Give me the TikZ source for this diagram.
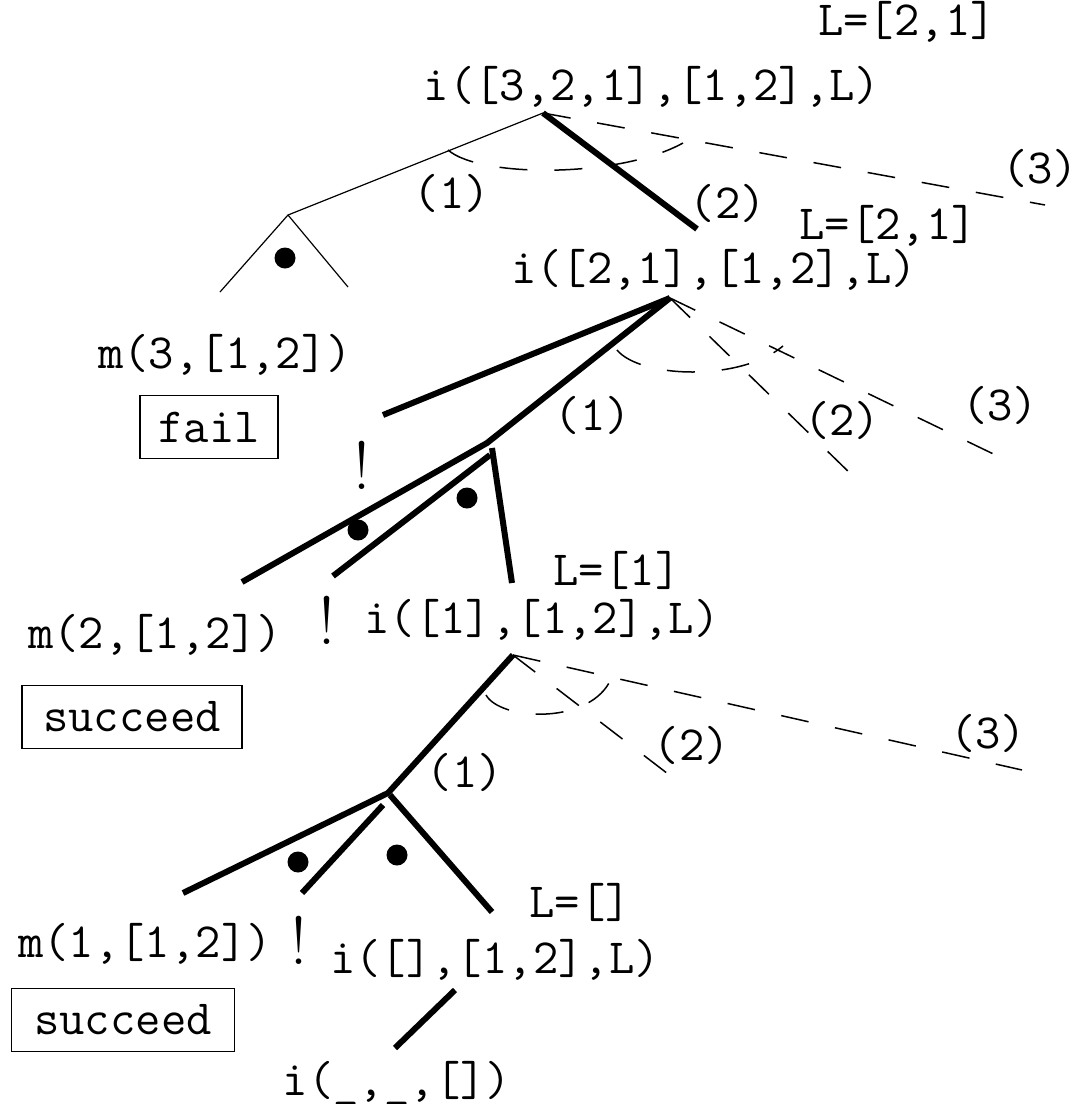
\documentclass[tikz,border=0pt]{standalone}
\usepackage{fontspec}

\begin{document}
\begin{tikzpicture}[x=0.5pt, y=-0.5pt,
    term/.style={font=\fontsize{24.6}{27}\selectfont\ttfamily, inner sep=0pt},
    cutmark/.style={font=\fontsize{34}{36}\selectfont, inner sep=0pt},
    result/.style={term, draw, line width=0.6pt, minimum height=31.5pt},
    plain/.style={line width=0.6pt},
    taken/.style={line width=3pt},
    untried/.style={line width=0.75pt, dash pattern=on 14pt off 13.5pt},
    dot/.style={circle, fill, inner sep=0pt, minimum size=10.5pt}
]
\useasboundingbox (0,0) rectangle (1077,1104);

% goals and bindings
\node[term] (bind1) at (907,22) {L=[2,1]};
\node[term] (goal1) at (652,87) {i([3,2,1],[1,2],L)};
\node[term] (bind2) at (888,226) {L=[2,1]};
\node[term] (goal2) at (714,270) {i([2,1],[1,2],L)};
\node[term] (bind3) at (617,570) {L=[1]};
\node[term] (goal3) at (542,620) {i([1],[1,2],L)};
\node[term] (bind4) at (580,902) {L=[]};
\node[term] (goal4) at (495,960) {i([],[1,2],L)};
\node[term] (goal5) at (397,1083) {i(\_,\_,[])};

\node[term] (memb1) at (225,355) {m(3,[1,2])};
\node[term] (memb2) at (155,635) {m(2,[1,2])};
\node[term] (memb3) at (145,944) {m(1,[1,2])};

\node[result, minimum width=69pt] (res1) at (209,427) {fail};
\node[result, minimum width=110pt] (res2) at (132,717) {succeed};
\node[result, minimum width=111.5pt] (res3) at (123,1020) {succeed};

\node[cutmark] (cut1) at (362,465) {!};
\node[cutmark] (cut2) at (327,620) {!};
\node[cutmark] (cut3) at (299,940) {!};

% clause numbers
\node[term] (n11) at (452,193) {(1)};
\node[term] (n12) at (728,203) {(2)};
\node[term] (n13) at (1040,168) {(3)};
\node[term] (n21) at (593,415) {(1)};
\node[term] (n22) at (842,420) {(2)};
\node[term] (n23) at (1000,405) {(3)};
\node[term] (n31) at (465,772) {(1)};
\node[term] (n32) at (692,745) {(2)};
\node[term] (n33) at (988,733) {(3)};

% first level
\coordinate (r1) at (543,113);
\coordinate (a1) at (288,215);
\coordinate (a1l) at (220,292);
\coordinate (a1r) at (348,287);
\coordinate (e12) at (697,229);
\coordinate (e13) at (1045,205);
\draw[plain] (r1) -- (a1) -- (a1l);
\draw[plain] (a1) -- (a1r);
\node[dot] (dot1) at (285,258) {};
\draw[taken] (r1) -- (e12);
\draw[untried] (r1) -- (e13);
\draw[untried] (448,150) .. controls (480,178) and (620,178) .. (683,143);

% second level
\coordinate (r2) at (670,298);
\coordinate (c2) at (383,415);
\coordinate (a2) at (487,443);
\coordinate (e22) at (855,478);
\coordinate (e23) at (1010,462);
\draw[taken] (r2) -- (c2);
\draw[taken] (r2) -- (a2) -- (242,582);
\draw[taken] (490,455) -- (333,576);
\draw[taken] (492,448) -- (512,583);
\node[dot] (dot2) at (358,530) {};
\node[dot] (dot3) at (467,498) {};
\draw[untried] (r2) -- (e22);
\draw[untried] (r2) -- (e23);
\draw[untried] (617,350) .. controls (640,378) and (740,382) .. (783,346);

% third level
\coordinate (r3) at (513,655);
\coordinate (a3) at (388,793);
\coordinate (e32) at (672,777);
\coordinate (e33) at (1022,770);
\draw[taken] (r3) -- (a3) -- (183,893);
\draw[taken] (383,805) -- (302,893);
\draw[taken] (390,795) -- (492,912);
\node[dot] (dot4) at (298,862) {};
\node[dot] (dot5) at (397,855) {};
\draw[untried] (r3) -- (e32);
\draw[untried] (r3) -- (e33);
\draw[untried] (486,695) .. controls (500,720) and (585,725) .. (609,683);

% last step
\draw[taken] (455,990) -- (395,1048);

\end{tikzpicture}
\end{document}
